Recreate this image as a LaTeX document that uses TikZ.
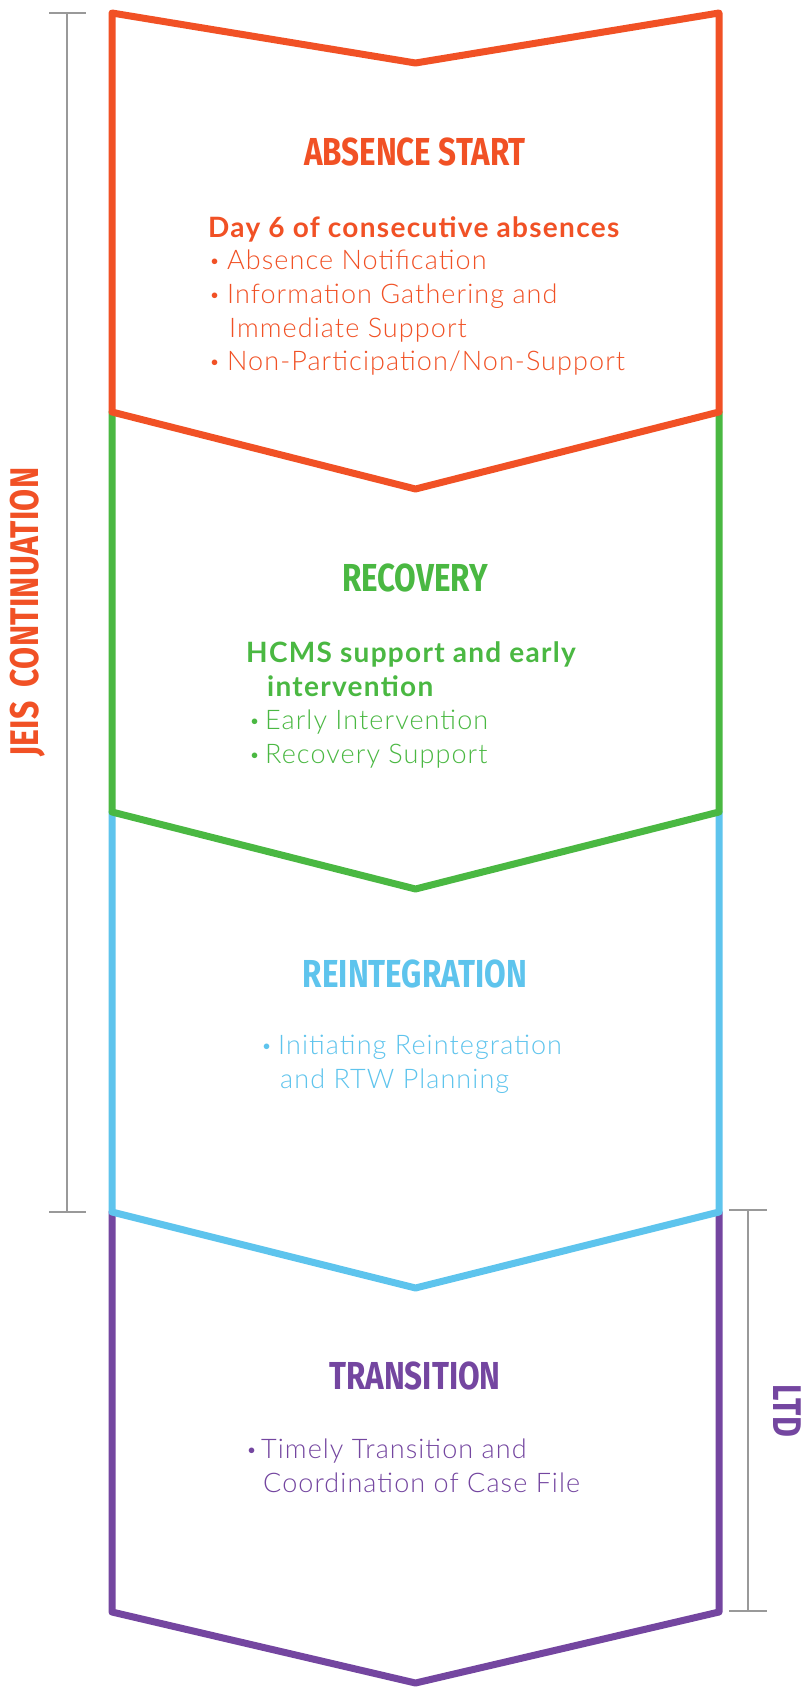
\documentclass[tikz,border=0pt]{standalone}
\usepackage{fontspec}
\setmainfont{Lato}
\newfontfamily\bodyfont{Lato Light}[LetterSpace=4]
\newfontfamily\subfont{Lato}[LetterSpace=4.6]
\newfontfamily\headfont{Fira Sans}[FakeStretch=0.805]
\newfontfamily\sidefont{Fira Sans}[FakeStretch=0.8, LetterSpace=0.7]

\definecolor{stageorange}{HTML}{F15125}
\definecolor{stagegreen}{HTML}{4AB842}
\definecolor{stageblue}{HTML}{5EC4ED}
\definecolor{stagepurple}{HTML}{7446A0}
\definecolor{bracketgray}{HTML}{999999}

% small list bullet followed by a fixed gap
\newcommand{\itembullet}[1]{\makebox[#1][l]{\raisebox{1.5pt}{\fontsize{19}{19}\selectfont\textbullet}}}

\tikzset{
  stage/.style={line width=7pt, line join=round, line cap=round},
  bracket/.style={draw=bracketgray, line width=2.5pt},
  title/.style={anchor=base, inner sep=0pt, font=\headfont\bfseries\fontsize{39}{39}\selectfont},
  sidelabel/.style={inner sep=0pt, font=\sidefont\bfseries\fontsize{40}{40}\selectfont},
  sub/.style={anchor=base west, inner sep=0pt, font=\subfont\bfseries\fontsize{28}{30}\selectfont},
  item/.style={anchor=base west, inner sep=0pt, font=\bodyfont\fontsize{27}{30}\selectfont},
}

\begin{document}
\begin{tikzpicture}[x=1pt,y=-1pt]
  % canvas
  \fill[white] (0,0) rectangle (809,1689);
  \useasboundingbox (0,0) rectangle (809,1689);

  % chevron corner points, one row per stage boundary
  \coordinate (L0) at (112,13);   \coordinate (R0) at (719,13);   \coordinate (N0) at (415.5,63);
  \coordinate (L1) at (112,412);  \coordinate (R1) at (719,412);  \coordinate (N1) at (415.5,489);
  \coordinate (L2) at (112,812);  \coordinate (R2) at (719,812);  \coordinate (N2) at (415.5,889);
  \coordinate (L3) at (112,1212); \coordinate (R3) at (719,1212); \coordinate (N3) at (415.5,1288);
  \coordinate (L4) at (112,1612); \coordinate (R4) at (719,1612); \coordinate (N4) at (415.5,1683);

  % stages, drawn bottom-up so each chevron tip sits on top of the next stage
  \draw[stage, stagepurple] (L3) -- (L4) -- (N4) -- (R4) -- (R3);
  \draw[stage, stageblue]   (L2) -- (L3) -- (N3) -- (R3) -- (R2);
  \draw[stage, stagegreen]  (L1) -- (L2) -- (N2) -- (R2) -- (R1);
  \draw[stage, stageorange] (L0) -- (N0) -- (R0) -- (R1) -- (N1) -- (L1) -- cycle;

  % brackets
  \coordinate (jt) at (67,13);    \coordinate (jb) at (67,1212);
  \coordinate (lt) at (748,1210); \coordinate (lb) at (748,1611);
  \draw[bracket] ([xshift=-18pt]jt) -- ([xshift=19pt]jt);
  \draw[bracket] (jt) -- (jb);
  \draw[bracket] ([xshift=-18pt]jb) -- ([xshift=19pt]jb);
  \draw[bracket] ([xshift=-19pt]lt) -- ([xshift=19pt]lt);
  \draw[bracket] (lt) -- (lb);
  \draw[bracket] ([xshift=-19pt]lb) -- ([xshift=19pt]lb);

  \node[sidelabel, text=stageorange, rotate=90] (jeis) at (28,612) {JEIS\hspace{6pt} CONTINUATION};
  \node[sidelabel, text=stagepurple, rotate=-90] (ltd) at (787,1411) {LTD};

  % absence start
  \node[title, text=stageorange] (t1) at (415,165) {ABSENCE START};
  \node[sub, text=stageorange] (s1) at (208,237) {Day 6 of consecutive absences};
  \node[item, text=stageorange] (a1) at (209,269) {\itembullet{18pt}Absence Notification};
  \node[item, text=stageorange] (a2) at (209,303) {\itembullet{18pt}Information Gathering and};
  \node[item, text=stageorange] (a3) at (229,337) {Immediate Support};
  \node[item, text=stageorange] (a4) at (209,370) {\itembullet{18pt}Non-Participation/Non-Support};

  % recovery
  \node[title, text=stagegreen] (t2) at (415,591) {RECOVERY};
  \node[sub, text=stagegreen] (s2a) at (246,662) {HCMS support and early};
  \node[sub, text=stagegreen] (s2b) at (267,696) {intervention};
  \node[item, text=stagegreen] (b1) at (249,729) {\itembullet{16pt}Early Intervention};
  \node[item, text=stagegreen] (b2) at (249,763) {\itembullet{16pt}Recovery Support};

  % reintegration
  \node[title, text=stageblue] (t3) at (415,987) {REINTEGRATION};
  \node[item, text=stageblue] (c1) at (261,1054) {\itembullet{17pt}Initiating Reintegration};
  \node[item, text=stageblue] (c2) at (280,1088) {and RTW Planning};

  % transition
  \node[title, text=stagepurple] (t4) at (415,1389) {TRANSITION};
  \node[item, text=stagepurple] (d1) at (246,1458) {\itembullet{15pt}Timely Transition and};
  \node[item, text=stagepurple] (d2) at (263,1492) {Coordination of Case File};
\end{tikzpicture}
\end{document}
